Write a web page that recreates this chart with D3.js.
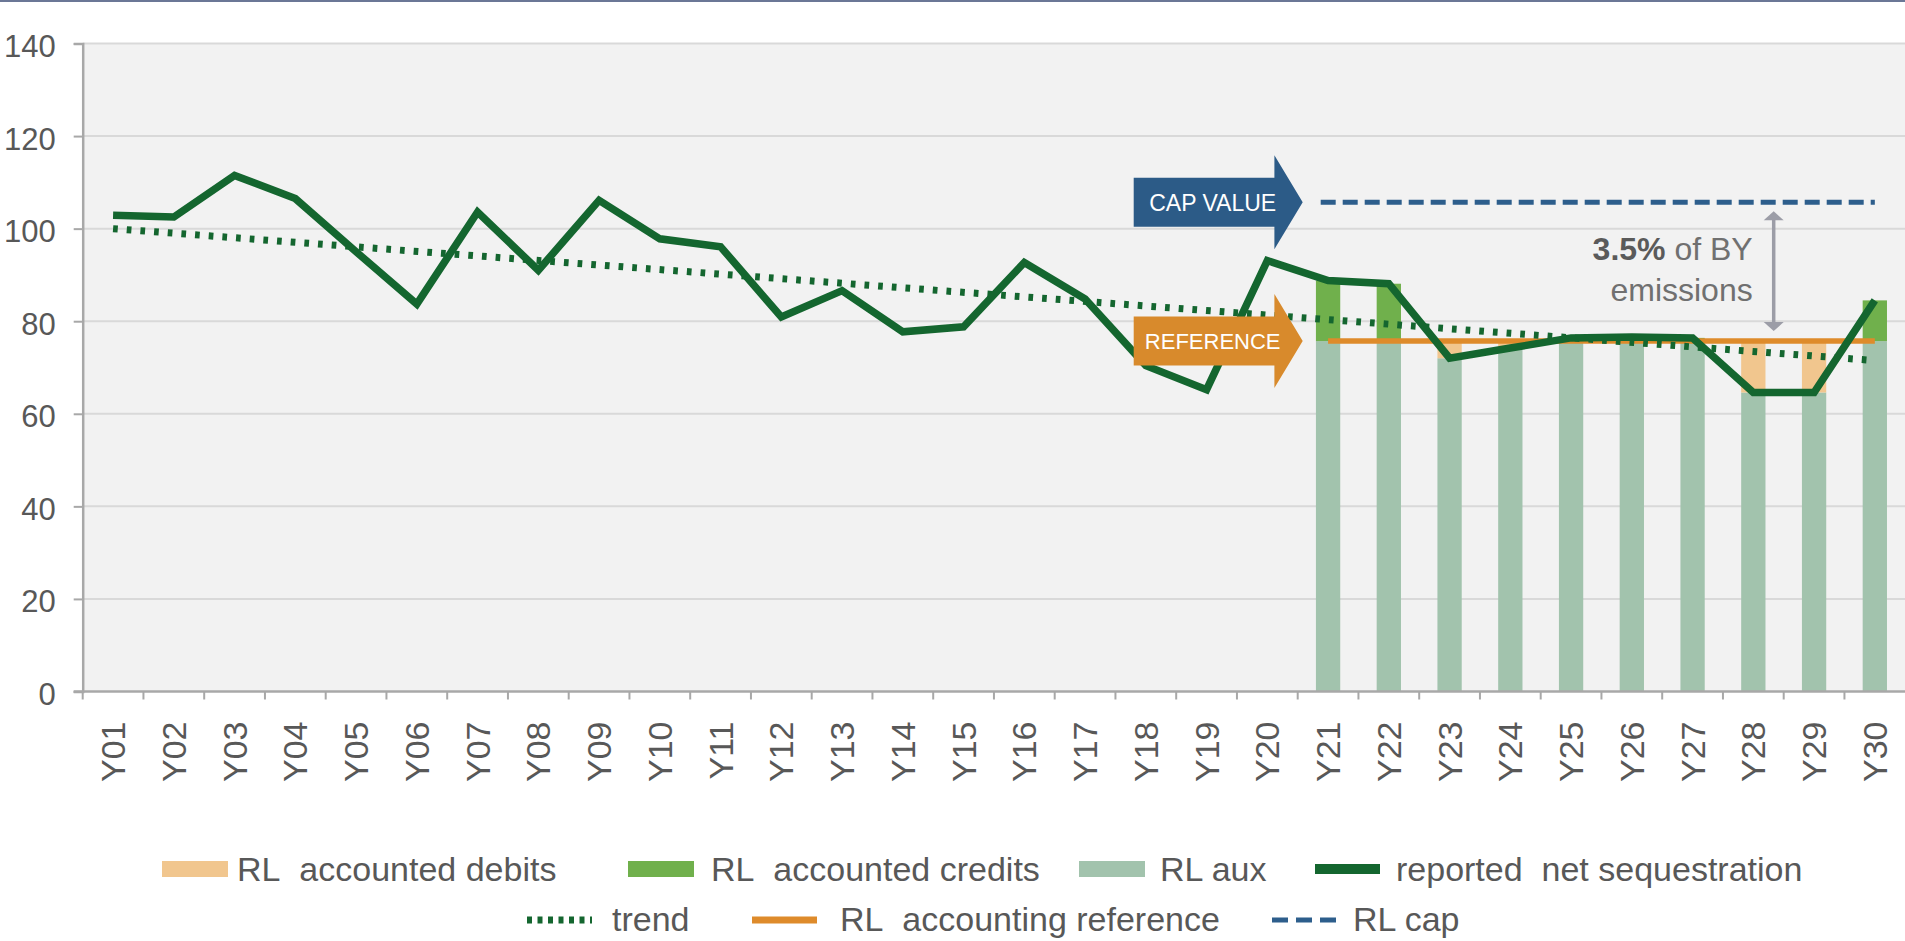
<!DOCTYPE html>
<html>
<head>
<meta charset="utf-8">
<script src="https://cdn.jsdelivr.net/npm/d3@7"></script>
<style>
    html, body { margin: 0; padding: 0; background: #fff; }
    svg { display: block; font-family: "Liberation Sans", Arial, sans-serif; }
</style>
</head>
<body>
<svg id="chart"></svg>
<script>
// categories
const years = ['Y01', 'Y02', 'Y03', 'Y04', 'Y05', 'Y06', 'Y07', 'Y08', 'Y09', 'Y10',
    'Y11', 'Y12', 'Y13', 'Y14', 'Y15', 'Y16', 'Y17', 'Y18', 'Y19', 'Y20',
    'Y21', 'Y22', 'Y23', 'Y24', 'Y25', 'Y26', 'Y27', 'Y28', 'Y29', 'Y30'];
const accountingYears = ['Y21', 'Y22', 'Y23', 'Y24', 'Y25', 'Y26', 'Y27', 'Y28', 'Y29', 'Y30'];

// reported net sequestration
const netSequestration = [102.9, 102.5, 111.5, 106.5, 95.0, 83.7, 103.6, 91.0, 106.1, 97.8,
    96.1, 80.9, 86.6, 77.7, 78.8, 92.7, 84.8, 70.4, 65.2, 93.1,
    88.8, 88.1, 72.0, 74.2, 76.4, 76.6, 76.4, 64.6, 64.6, 84.5];

// trend end points
const trendPoints = [{ year: 'Y01', value: 100.0 }, { year: 'Y30', value: 71.5 }];

const referenceLevel = 75.7;
const capLevel = 105.7;

const yTicks = [0, 20, 40, 60, 80, 100, 120, 140];

const legendRow1 = ['RL\u00a0 accounted debits', 'RL\u00a0 accounted credits', 'RL aux', 'reported\u00a0 net sequestration'];
const legendRow2 = ['trend', 'RL\u00a0 accounting reference', 'RL cap'];

const annotationBold = '3.5%';
const annotationRest = ' of BY';
const annotationLine2 = 'emissions';

const W = 1905, H = 941;
const colors = {
    line: '#14662f',
    credit: '#70b04c',
    aux: '#a2c3ad',
    debit: '#f1c68e',
    reference: '#de8b2b',
    cap: '#2d5e8c',
    capBox: '#2c5b87',
    refBox: '#d88a2c',
    grid: '#d9d9d9',
    axis: '#a8a8a8',
    text: '#585858',
    note: '#9c9da7'
};

const svg = d3.select('#chart')
    .attr('width', W)
    .attr('height', H);

svg.append('rect')
    .attr('width', W).attr('height', H)
    .attr('fill', '#fff');

// thin top rule
svg.append('rect')
    .attr('width', W).attr('height', 2)
    .attr('fill', '#6b7796');

const x = d3.scaleBand()
    .domain(years)
    .range([82.7, 1905.2])
    .padding(0);
const y = d3.scaleLinear()
    .domain([0, 140])
    .range([691.5, 43.5]);

const bw = x.bandwidth();
const cx = d => x(d) + bw / 2;
const barW = bw * 0.4;

const values = new Map(years.map((yr, i) => [yr, netSequestration[i]]));

// plot background
svg.append('rect')
    .attr('x', x.range()[0])
    .attr('y', y(140))
    .attr('width', x.range()[1] - x.range()[0])
    .attr('height', y(0) - y(140))
    .attr('fill', '#f2f2f2');

// grid
svg.append('g')
    .selectAll('line')
    .data(yTicks.filter(d => d > 0))
    .enter().append('line')
    .attr('x1', x.range()[0])
    .attr('x2', x.range()[1])
    .attr('y1', d => y(d))
    .attr('y2', d => y(d))
    .style('stroke', colors.grid)
    .style('stroke-width', 2);

// bars for the accounting period
const barData = accountingYears.map(yr => ({ year: yr, value: values.get(yr) }));
const barGroup = svg.append('g').attr('class', 'bars');

barGroup.selectAll('.aux')
    .data(barData)
    .enter().append('rect')
    .attr('class', 'aux')
    .attr('x', d => cx(d.year) - barW / 2)
    .attr('width', barW)
    .attr('y', d => y(Math.min(d.value, referenceLevel)))
    .attr('height', d => y(0) - y(Math.min(d.value, referenceLevel)))
    .attr('fill', colors.aux);

barGroup.selectAll('.credit')
    .data(barData.filter(d => d.value > referenceLevel))
    .enter().append('rect')
    .attr('class', 'credit')
    .attr('x', d => cx(d.year) - barW / 2)
    .attr('width', barW)
    .attr('y', d => y(d.value))
    .attr('height', d => y(referenceLevel) - y(d.value))
    .attr('fill', colors.credit);

barGroup.selectAll('.debit')
    .data(barData.filter(d => d.value < referenceLevel))
    .enter().append('rect')
    .attr('class', 'debit')
    .attr('x', d => cx(d.year) - barW / 2)
    .attr('width', barW)
    .attr('y', y(referenceLevel))
    .attr('height', d => y(d.value) - y(referenceLevel))
    .attr('fill', colors.debit);

// y axis
const yAxis = svg.append('g')
    .attr('transform', `translate(${x.range()[0]},0)`)
    .call(d3.axisLeft(y).tickValues(yTicks).tickSize(9).tickPadding(18));
yAxis.select('.domain').style('stroke', colors.axis).style('stroke-width', 2.5);
yAxis.selectAll('.tick line').style('stroke', colors.axis).style('stroke-width', 2);
yAxis.selectAll('.tick text')
    .attr('dy', '0.42em')
    .style('font-size', '31px')
    .style('font-family', '"Liberation Sans", Arial, sans-serif')
    .style('fill', colors.text);

// x axis, ticks sit between the categories
const xAxis = svg.append('g').attr('class', 'xaxis');
xAxis.append('line')
    .attr('x1', x.range()[0] - 9)
    .attr('x2', x.range()[1])
    .attr('y1', y(0))
    .attr('y2', y(0))
    .style('stroke', colors.axis)
    .style('stroke-width', 2.5);
xAxis.selectAll('.xtick')
    .data(years)
    .enter().append('line')
    .attr('class', 'xtick')
    .attr('x1', d => x(d))
    .attr('x2', d => x(d))
    .attr('y1', y(0))
    .attr('y2', y(0) + 8)
    .style('stroke', colors.axis)
    .style('stroke-width', 2);
xAxis.selectAll('.xlabel')
    .data(years)
    .enter().append('text')
    .attr('class', 'xlabel')
    .attr('transform', d => `translate(${cx(d) + 12},${y(0) + 30}) rotate(-90)`)
    .attr('text-anchor', 'end')
    .style('font-size', '34px')
    .style('fill', colors.text)
    .text(d => d);

// reference level line
svg.append('line')
    .attr('x1', cx('Y21'))
    .attr('x2', cx('Y30'))
    .attr('y1', y(referenceLevel))
    .attr('y2', y(referenceLevel))
    .style('stroke', colors.reference)
    .style('stroke-width', 5.5);

// trend
svg.append('line')
    .attr('x1', cx(trendPoints[0].year))
    .attr('y1', y(trendPoints[0].value))
    .attr('x2', cx(trendPoints[1].year))
    .attr('y2', y(trendPoints[1].value))
    .style('stroke', colors.line)
    .style('stroke-width', 7)
    .style('stroke-dasharray', '4.7,9');

// cap level
svg.append('line')
    .attr('x1', x('Y21') + 23)
    .attr('x2', cx('Y30'))
    .attr('y1', y(capLevel))
    .attr('y2', y(capLevel))
    .style('stroke', colors.cap)
    .style('stroke-width', 5)
    .style('stroke-dasharray', '15,7');

// reported net sequestration
const line = d3.line()
    .x(d => cx(d.year))
    .y(d => y(d.value));
svg.append('path')
    .datum(years.map(yr => ({ year: yr, value: values.get(yr) })))
    .attr('d', line)
    .style('fill', 'none')
    .style('stroke', colors.line)
    .style('stroke-width', 7.5)
    .style('stroke-linejoin', 'miter')
    .style('stroke-miterlimit', 3);

// block arrows pointing at the cap and the reference
function blockArrow(cy, fill, label, fontSize) {
    const tip = x('Y21') + 5;
    const base = tip - 28.3;
    const left = tip - 169;
    const bh = 24.5, hh = 47;
    const g = svg.append('g');
    g.append('path')
        .attr('d', `M${left},${cy - bh} L${base},${cy - bh} L${base},${cy - hh} L${tip},${cy} ` +
            `L${base},${cy + hh} L${base},${cy + bh} L${left},${cy + bh} Z`)
        .attr('fill', fill);
    g.append('text')
        .attr('x', tip - 90)
        .attr('y', cy)
        .attr('dy', '0.36em')
        .attr('text-anchor', 'middle')
        .style('font-size', fontSize)
        .style('fill', '#fff')
        .text(label);
}
blockArrow(y(capLevel), colors.capBox, 'CAP VALUE', '23px');
blockArrow(y(referenceLevel), colors.refBox, 'REFERENCE', '22px');

// 3.5% annotation with a double headed arrow
const ax = x('Y29') - 10;
const aTop = y(capLevel) + 9;
const aBot = y(referenceLevel) - 10;
const note = svg.append('g');
note.append('line')
    .attr('x1', ax).attr('x2', ax)
    .attr('y1', aTop + 6).attr('y2', aBot - 6)
    .style('stroke', colors.note)
    .style('stroke-width', 3.5);
note.append('path')
    .attr('d', `M${ax - 10},${aTop + 9} L${ax},${aTop} L${ax + 10},${aTop + 9} Z`)
    .attr('fill', colors.note);
note.append('path')
    .attr('d', `M${ax - 10},${aBot - 9} L${ax},${aBot} L${ax + 10},${aBot - 9} Z`)
    .attr('fill', colors.note);

const t1 = note.append('text')
    .attr('x', ax - 21)
    .attr('y', y(capLevel) + 58)
    .attr('text-anchor', 'end')
    .style('font-size', '32px')
    .style('fill', '#707070');
t1.append('tspan').style('font-weight', 'bold').style('fill', '#5a5a5a').text(annotationBold);
t1.append('tspan').text(annotationRest);
note.append('text')
    .attr('x', ax - 21)
    .attr('y', y(capLevel) + 99)
    .attr('text-anchor', 'end')
    .style('font-size', '32px')
    .style('fill', '#707070')
    .text(annotationLine2);

// legend
const legend = svg.append('g').attr('class', 'legend');
const row1 = [
    { label: legendRow1[0], kind: 'bar', color: colors.debit, sx: 162, tx: 237 },
    { label: legendRow1[1], kind: 'bar', color: colors.credit, sx: 628, tx: 711 },
    { label: legendRow1[2], kind: 'bar', color: colors.aux, sx: 1079, tx: 1160 },
    { label: legendRow1[3], kind: 'line', color: colors.line, sx: 1315, tx: 1396 }
];
const row2 = [
    { label: legendRow2[0], kind: 'dot', color: colors.line, sx: 527, tx: 612 },
    { label: legendRow2[1], kind: 'ref', color: colors.reference, sx: 752, tx: 840 },
    { label: legendRow2[2], kind: 'dash', color: colors.cap, sx: 1272, tx: 1353 }
];

function drawLegendRow(items, baseline, mid) {
    items.forEach(d => {
        if (d.kind === 'bar') {
            legend.append('rect')
                .attr('x', d.sx).attr('y', mid - 8)
                .attr('width', 66).attr('height', 16)
                .attr('fill', d.color);
        } else {
            const sw = { line: 10, dot: 7, ref: 7, dash: 5 }[d.kind];
            const dash = { line: null, dot: '5,5.5', ref: null, dash: '16,8' }[d.kind];
            legend.append('line')
                .attr('x1', d.sx).attr('x2', d.sx + 65)
                .attr('y1', mid).attr('y2', mid)
                .style('stroke', d.color)
                .style('stroke-width', sw)
                .style('stroke-dasharray', dash);
        }
        legend.append('text')
            .attr('x', d.tx)
            .attr('y', baseline)
            .style('font-size', '34px')
            .style('fill', colors.text)
            .text(d.label);
    });
}
drawLegendRow(row1, 881, 869);
drawLegendRow(row2, 931, 920);
</script>
</body>
</html>
